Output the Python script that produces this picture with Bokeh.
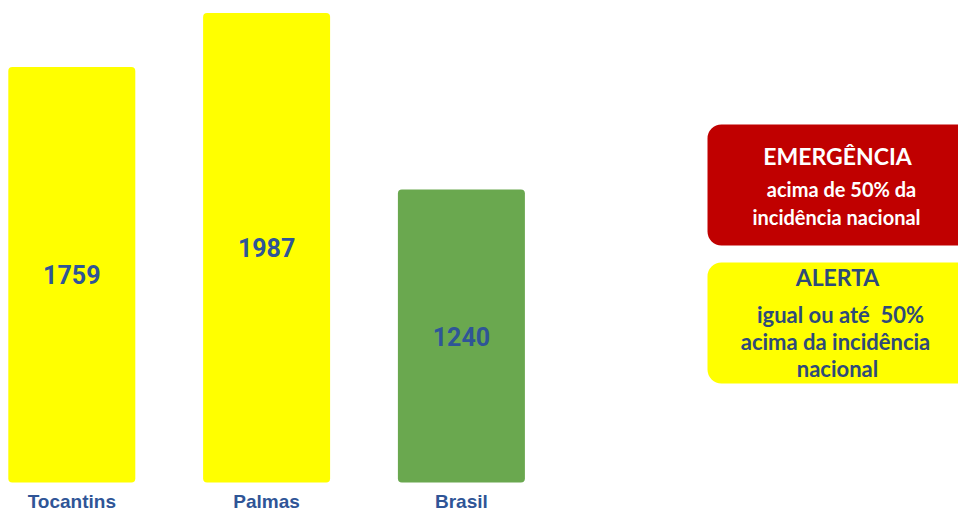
from bokeh.plotting import figure
from bokeh.models import Range1d, BoxAnnotation, ColumnDataSource
from bokeh.core.properties import value
from bokeh.embed import file_html
from bokeh.resources import INLINE

# ---- data ----
categories = ["Tocantins", "Palmas", "Brasil"]
incidencia = [1759, 1987, 1240]
bar_colors = ["#FFFF00", "#FFFF00", "#6AA84F"]

emerg_lines = ["EMERGÊNCIA", "acima de 50% da", "incidência nacional"]
alerta_lines = ["ALERTA", "igual ou até\u00a0\u00a050%", "acima da incidência", "nacional"]

# ---- layout (pixels in canvas) ----
W, H = 958, 512
x0_px, step_px = 71.3, 194.8          # centre of first bar, spacing
base_px = 30.0                        # bar baseline above bottom edge
ppu = 469.4 / 1987.0                  # pixels per unit

xs = Range1d(-x0_px / step_px, (W - x0_px) / step_px)
ys = Range1d(-base_px / ppu, (H - base_px) / ppu)

def X(px):   # canvas px (from left) -> data x
    return xs.start + px / step_px

def Y(py):   # canvas px (from top) -> data y
    return ys.start + (H - py) / ppu

p = figure(width=W, height=H, x_range=xs, y_range=ys,
           output_backend="svg", toolbar_location=None,
           min_border=0, outline_line_color=None,
           background_fill_color="white", border_fill_color="white")
p.axis.visible = False
p.grid.visible = False

idx = list(range(len(categories)))
src = ColumnDataSource(dict(x=idx, top=incidencia, color=bar_colors,
                            mid=[v / 2 for v in incidencia],
                            lab=[str(v) for v in incidencia],
                            cat=categories, zero=[0] * len(idx)))

p.vbar(x="x", top="top", bottom=0, width=127 / step_px, fill_color="color",
       line_color=None, border_radius=4, source=src)

p.text(x="x", y="mid", text="lab", source=src, text_align="center",
       text_baseline="middle", text_font=value("Roboto"), text_font_style="bold",
       text_font_size="25px", text_color="#2F5597")

p.text(x="x", y="zero", text="cat", source=src, text_align="center",
       text_baseline="middle", y_offset=19, text_font=value("Liberation Sans"),
       text_font_style="bold", text_font_size="19px", text_color="#2F5597")

# ---- legend-like boxes ----
p.add_layout(BoxAnnotation(left=X(707), right=X(975), top=Y(124), bottom=Y(245),
                           fill_color="#C00000", fill_alpha=1, line_color=None,
                           border_radius=14, level="underlay"))
p.add_layout(BoxAnnotation(left=X(707), right=X(975), top=Y(262), bottom=Y(383),
                           fill_color="#FFFF00", fill_alpha=1, line_color=None,
                           border_radius=14, level="underlay"))

e_x = [837, 841, 836]
e_y = [155, 188, 216]
e_sz = ["23px", "20px", "20px"]
for t, cx, cy, sz in zip(emerg_lines, e_x, e_y, e_sz):
    p.text(x=[X(cx)], y=[Y(cy)], text=[t], text_align="center", text_baseline="middle",
           text_font=value("Lato"), text_font_style="bold", text_font_size=sz,
           text_color="#FFFFFF")

a_x = [837, 840, 835, 837]
a_y = [276, 314, 341, 368]
a_sz = ["23px", "22px", "22px", "22px"]
for t, cx, cy, sz in zip(alerta_lines, a_x, a_y, a_sz):
    p.text(x=[X(cx)], y=[Y(cy)], text=[t], text_align="center", text_baseline="middle",
           text_font=value("Lato"), text_font_style="bold", text_font_size=sz,
           text_color="#2E4A7A")

open("out.html", "w").write(file_html(p, INLINE))
